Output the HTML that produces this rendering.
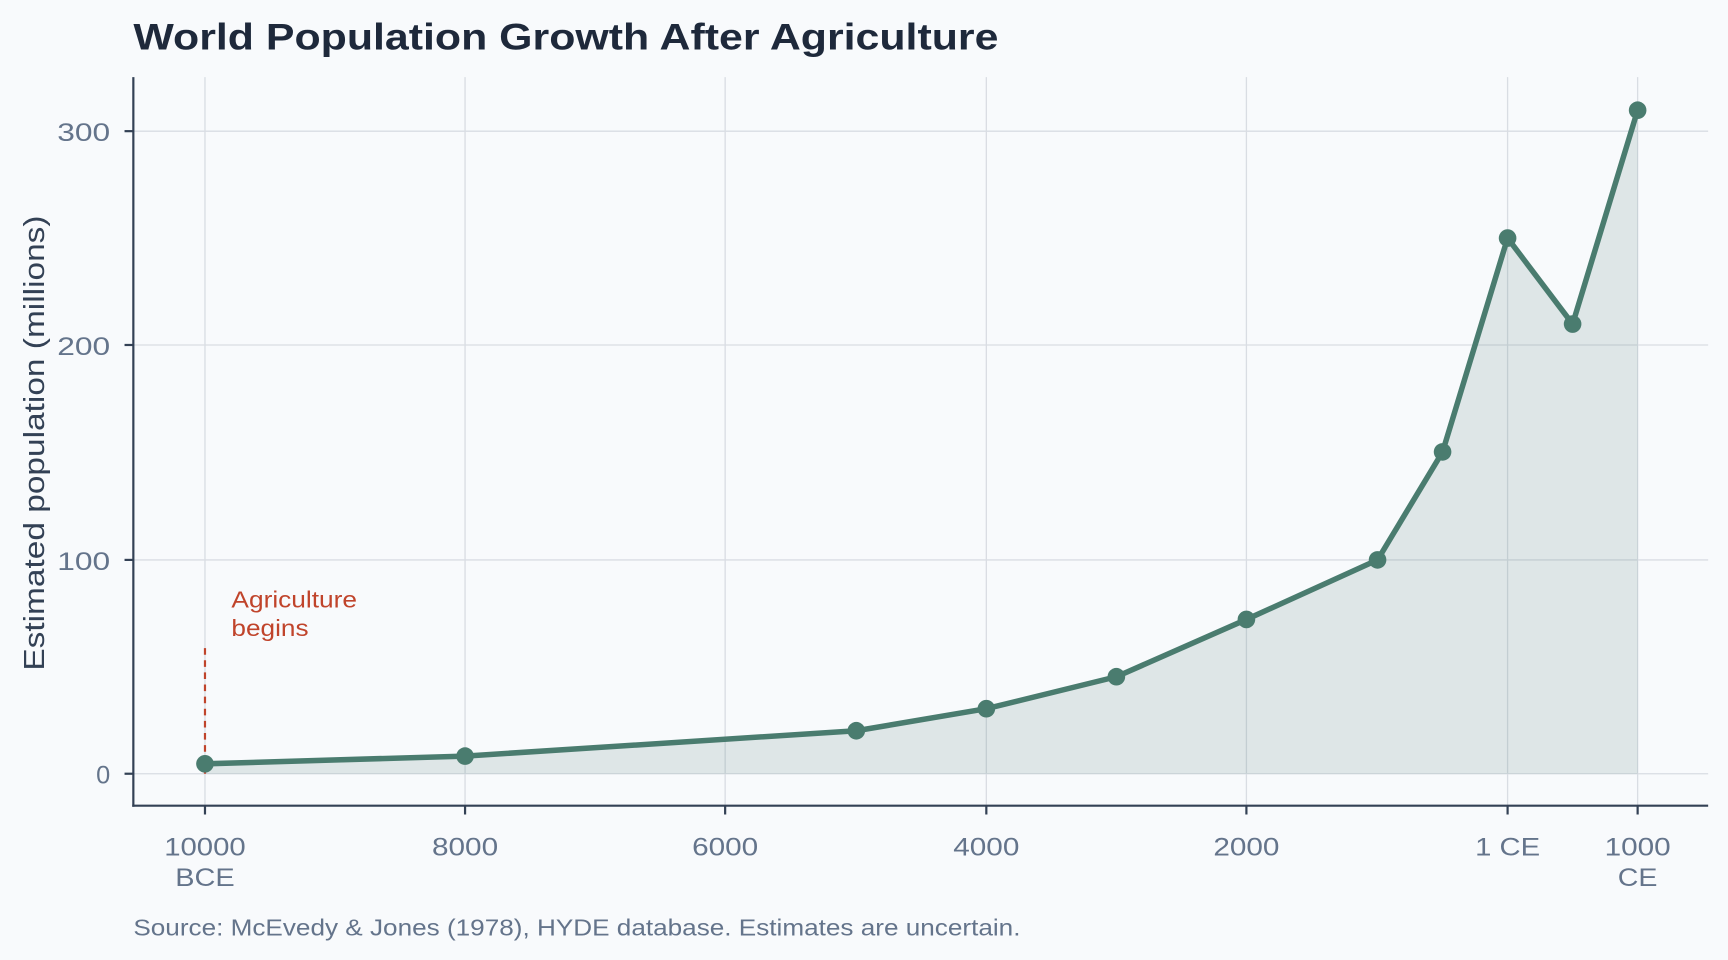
<!DOCTYPE html>
<html><head><meta charset="utf-8"><style>
html,body{margin:0;padding:0;background:#f8fafc;}
svg{display:block;font-family:"Liberation Sans",Arial,sans-serif;}
</style></head><body>
<svg width="1728" height="960" viewBox="0 0 1568 871" preserveAspectRatio="none" xmlns="http://www.w3.org/2000/svg">
<rect width="1568" height="871" fill="#f8fafc"/>
<text x="121" y="45" font-size="34" font-weight="bold" fill="#1e293b" textLength="785" lengthAdjust="spacingAndGlyphs">World Population Growth After Agriculture</text>
<g stroke="#d9dde3" stroke-width="1.2">
<line x1="186" y1="70" x2="186" y2="731"/><line x1="422" y1="70" x2="422" y2="731"/><line x1="658" y1="70" x2="658" y2="731"/><line x1="895" y1="70" x2="895" y2="731"/><line x1="1131" y1="70" x2="1131" y2="731"/><line x1="1368" y1="70" x2="1368" y2="731"/><line x1="1486" y1="70" x2="1486" y2="731"/>
<line x1="121" y1="119" x2="1550" y2="119"/><line x1="121" y1="313" x2="1550" y2="313"/><line x1="121" y1="508" x2="1550" y2="508"/><line x1="121" y1="702" x2="1550" y2="702"/>
</g>
<polygon fill="#4a7c6f" fill-opacity="0.15" points="186,702 186,693 422,686 777,663 895,643 1013,614 1131,562 1250,508 1309,410 1368,216 1427,294 1486,100 1486,702"/>
<line x1="186" y1="588" x2="186" y2="702" stroke="#c0442b" stroke-width="2" stroke-dasharray="6,5"/>
<text font-size="21" fill="#c0442b" x="210" y="551" textLength="114" lengthAdjust="spacingAndGlyphs">Agriculture</text>
<text font-size="21" fill="#c0442b" x="210" y="577" textLength="70" lengthAdjust="spacingAndGlyphs">begins</text>
<polyline fill="none" stroke="#4a7c6f" stroke-width="5" stroke-linejoin="round" points="186,693 422,686 777,663 895,643 1013,614 1131,562 1250,508 1309,410 1368,216 1427,294 1486,100"/>
<g fill="#4a7c6f">
<circle cx="186" cy="693" r="8"/><circle cx="422" cy="686" r="8"/><circle cx="777" cy="663" r="8"/><circle cx="895" cy="643" r="8"/><circle cx="1013" cy="614" r="8"/><circle cx="1131" cy="562" r="8"/><circle cx="1250" cy="508" r="8"/><circle cx="1309" cy="410" r="8"/><circle cx="1368" cy="216" r="8"/><circle cx="1427" cy="294" r="8"/><circle cx="1486" cy="100" r="8"/>
</g>
<g stroke="#334155" stroke-width="2">
<line x1="121" y1="70" x2="121" y2="732"/><line x1="120" y1="731" x2="1550" y2="731"/>
<line x1="113" y1="119" x2="121" y2="119"/><line x1="113" y1="313" x2="121" y2="313"/><line x1="113" y1="508" x2="121" y2="508"/><line x1="113" y1="702" x2="121" y2="702"/>
<line x1="186" y1="731" x2="186" y2="739"/><line x1="422" y1="731" x2="422" y2="739"/><line x1="658" y1="731" x2="658" y2="739"/><line x1="895" y1="731" x2="895" y2="739"/><line x1="1131" y1="731" x2="1131" y2="739"/><line x1="1368" y1="731" x2="1368" y2="739"/><line x1="1486" y1="731" x2="1486" y2="739"/>
</g>
<g font-size="23" fill="#64748b" text-anchor="end">
<text x="100" y="128" textLength="48" lengthAdjust="spacingAndGlyphs">300</text><text x="100" y="322" textLength="48" lengthAdjust="spacingAndGlyphs">200</text><text x="100" y="517" textLength="48" lengthAdjust="spacingAndGlyphs">100</text><text x="100" y="711">0</text>
</g>
<g font-size="23" fill="#64748b" text-anchor="middle">
<text x="186" y="776" textLength="74" lengthAdjust="spacingAndGlyphs">10000</text><text x="186" y="804" textLength="54" lengthAdjust="spacingAndGlyphs">BCE</text>
<text x="422" y="776" textLength="60" lengthAdjust="spacingAndGlyphs">8000</text><text x="658" y="776" textLength="60" lengthAdjust="spacingAndGlyphs">6000</text><text x="895" y="776" textLength="60" lengthAdjust="spacingAndGlyphs">4000</text><text x="1131" y="776" textLength="60" lengthAdjust="spacingAndGlyphs">2000</text><text x="1368" y="776" textLength="59" lengthAdjust="spacingAndGlyphs">1 CE</text>
<text x="1486" y="776" textLength="60" lengthAdjust="spacingAndGlyphs">1000</text><text x="1486" y="804" textLength="36" lengthAdjust="spacingAndGlyphs">CE</text>
</g>
<text transform="translate(40,402) rotate(-90)" font-size="26" fill="#334155" text-anchor="middle" textLength="413" lengthAdjust="spacingAndGlyphs">Estimated population (millions)</text>
<text x="121" y="849" font-size="21" fill="#64748b" textLength="805" lengthAdjust="spacingAndGlyphs">Source: McEvedy &amp; Jones (1978), HYDE database. Estimates are uncertain.</text>
</svg>
</body></html>
